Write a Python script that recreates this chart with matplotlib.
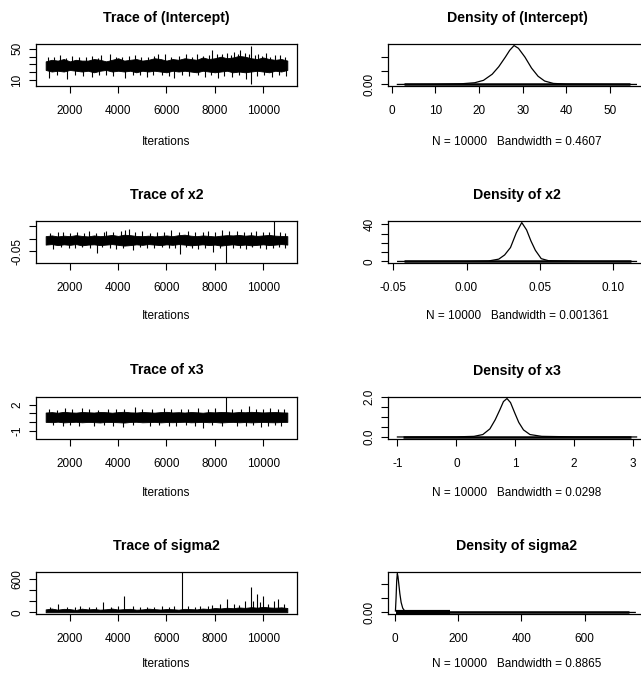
import matplotlib
matplotlib.use('Agg')
import matplotlib.pyplot as plt

plt.rcParams['font.family'] = ['Liberation Sans', 'DejaVu Sans']

env_iters = list(range(1000, 11001, 250))

# ---- (Intercept) trace: dense band edges, then isolated spikes above / below
int_center = 28.5
int_hi = [34, 36, 35, 37, 34, 36, 35, 35, 37, 36, 34, 36, 38, 35, 36, 37, 35, 36, 38, 37, 35,
          37, 36, 38, 37, 36, 39, 37, 38, 40, 38, 39, 41, 40, 38, 37, 39, 37, 36, 37, 35]
int_lo = [23, 21, 22, 21, 23, 22, 21, 22, 20, 22, 23, 21, 22, 21, 22, 20, 22, 21, 22, 21, 20,
          22, 21, 22, 21, 20, 22, 21, 20, 21, 22, 20, 21, 20, 21, 22, 21, 20, 22, 21, 23]
int_up_it = [1100, 1350, 1600, 1850, 2100, 2400, 2650, 2900, 3150, 3300, 3650, 3900, 4150, 4450,
             4700, 4950, 5250, 5500, 5650, 5950, 6200, 6500, 6800, 7050, 7250, 7500, 7750, 7900,
             8100, 8300, 8500, 8650, 8800, 8950, 9050, 9250, 9400, 9483, 9650, 9800, 9950, 10100,
             10300, 10500, 10700, 10900]
int_up_val = [40, 39, 42, 38, 41, 40, 39, 41, 38, 42, 43, 40, 39, 41, 42, 39, 40, 41, 43, 44,
              40, 41, 43, 40, 44, 41, 42, 48, 44, 43, 45, 42, 46, 44, 49, 45, 43, 54, 42, 43,
              41, 45, 40, 42, 42, 40]
int_dn_it = [1150, 1450, 1900, 2200, 2550, 2900, 3200, 3500, 3800, 4300, 4600, 4900, 5200, 5450,
             5800, 6100, 6300, 6650, 6950, 7300, 7600, 7850, 8150, 8400, 8700, 9000, 9300, 9490,
             9750, 10050, 10350, 10650, 10950]
int_dn_val = [13, 17, 12, 16, 15, 14, 17, 16, 15, 13, 16, 17, 14, 16, 17, 15, 13, 16, 15, 17,
              14, 16, 13, 15, 14, 16, 12, 4.8, 15, 16, 14, 16, 15]

# ---- x2 trace
x2_center = -0.008
x2_hi = [0.010, 0.013, 0.009, 0.012, 0.010, 0.014, 0.011, 0.009, 0.013, 0.010, 0.012, 0.015,
         0.011, 0.016, 0.014, 0.011, 0.010, 0.012, 0.009, 0.011, 0.013, 0.010, 0.014, 0.016,
         0.012, 0.010, 0.013, 0.011, 0.009, 0.012, 0.014, 0.013, 0.015, 0.012, 0.014, 0.011,
         0.013, 0.015, 0.012, 0.011, 0.010]
x2_lo = [-0.024, -0.022, -0.026, -0.023, -0.025, -0.022, -0.027, -0.024, -0.023, -0.026,
         -0.024, -0.022, -0.025, -0.028, -0.026, -0.023, -0.025, -0.022, -0.024, -0.026,
         -0.023, -0.025, -0.022, -0.024, -0.027, -0.025, -0.023, -0.026, -0.024, -0.028,
         -0.025, -0.023, -0.026, -0.024, -0.027, -0.025, -0.023, -0.026, -0.024, -0.022, -0.024]
x2_up_it = [1200, 1500, 1700, 2000, 2300, 2600, 2800, 3100, 3400, 3500, 3800, 4100, 4300, 4450,
            4700, 5000, 5300, 5600, 5900, 6200, 6500, 6900, 7200, 7500, 7700, 8000, 8300, 8600,
            8900, 9200, 9500, 9700, 10000, 10250, 10448, 10700, 10900]
x2_up_val = [0.022, 0.026, 0.028, 0.021, 0.025, 0.023, 0.030, 0.024, 0.027, 0.032, 0.025,
             0.029, 0.036, 0.038, 0.027, 0.030, 0.024, 0.028, 0.026, 0.034, 0.025, 0.030,
             0.026, 0.028, 0.032, 0.027, 0.035, 0.029, 0.030, 0.026, 0.028, 0.032, 0.027,
             0.025, 0.070, 0.028, 0.024]
x2_dn_it = [1300, 1650, 1950, 2200, 2500, 2850, 3110, 3350, 3650, 3900, 4200, 4600, 4900, 5200,
            5500, 5800, 6100, 6350, 6560, 6800, 7050, 7300, 7600, 7940, 8200, 8462, 8750, 9050,
            9300, 9550, 9850, 10100, 10400, 10650, 10900]
x2_dn_val = [-0.040, -0.035, -0.037, -0.038, -0.034, -0.036, -0.058, -0.035, -0.038, -0.040,
             -0.036, -0.045, -0.035, -0.037, -0.038, -0.034, -0.036, -0.039, -0.060, -0.035,
             -0.037, -0.042, -0.036, -0.055, -0.038, -0.096, -0.036, -0.038, -0.040, -0.035,
             -0.037, -0.042, -0.036, -0.034, -0.037]

# ---- x3 trace
x3_center = 0.55
x3_hi = [1.10, 1.15, 1.08, 1.18, 1.12, 1.09, 1.16, 1.13, 1.10, 1.17, 1.14, 1.08, 1.15, 1.19,
         1.12, 1.10, 1.16, 1.13, 1.09, 1.15, 1.18, 1.11, 1.14, 1.10, 1.16, 1.13, 1.08, 1.15,
         1.12, 1.17, 1.14, 1.10, 1.16, 1.13, 1.18, 1.15, 1.11, 1.14, 1.16, 1.12, 1.10]
x3_lo = [0.02, -0.02, 0.04, -0.04, 0.00, 0.03, -0.03, 0.01, -0.01, -0.05, 0.02, 0.00, -0.02,
         -0.06, 0.01, 0.03, -0.03, -0.01, 0.02, -0.04, 0.00, -0.02, 0.01, 0.03, -0.03, -0.01,
         0.02, -0.02, 0.00, -0.05, -0.01, 0.02, -0.03, 0.00, -0.04, -0.01, 0.01, -0.02, -0.03,
         0.00, 0.02]
x3_up_it = [1150, 1450, 1800, 2100, 2500, 2800, 3150, 3600, 3900, 4250, 4700, 5000, 5400, 5900,
            6200, 6600, 6900, 7300, 7700, 8000, 8450, 8700, 9100, 9400, 9700, 10000, 10300,
            10600, 10850]
x3_up_val = [1.5, 1.4, 1.6, 1.45, 1.6, 1.5, 1.4, 1.5, 1.55, 1.45, 1.7, 1.5, 1.45, 1.6, 1.5,
             1.45, 1.5, 1.6, 1.5, 1.6, 2.95, 1.55, 1.5, 1.8, 1.5, 1.55, 1.6, 1.5, 1.45]
x3_dn_it = [1300, 1700, 2000, 2400, 3000, 3400, 3800, 4200, 4600, 5300, 5700, 6100, 6400, 6800,
            7200, 7500, 7900, 8300, 8900, 9300, 9600, 9900, 10200, 10500, 10750]
x3_dn_val = [-0.35, -0.4, -0.3, -0.45, -0.5, -0.35, -0.4, -0.6, -0.35, -0.4, -0.3, -0.45, -0.5,
             -0.35, -0.4, -0.7, -0.35, -0.45, -0.5, -0.4, -0.35, -0.6, -0.4, -0.3, -0.4]

# ---- sigma2 trace (non-negative: spikes only go up)
s2_center = 20
s2_hi = [55, 70, 50, 65, 60, 45, 68, 55, 62, 50, 58, 70, 52, 60, 65, 50, 55, 68, 60, 52, 62,
         58, 50, 65, 60, 55, 70, 62, 80, 72, 85, 76, 90, 82, 95, 86, 100, 90, 85, 92, 80]
s2_lo = [3] * 41
s2_up_it = [1200, 1511, 1900, 2200, 2420, 2800, 3100, 3380, 3700, 4000, 4240, 4600, 4900, 5200,
            5500, 5800, 6100, 6300, 6630, 6900, 7200, 7400, 7700, 7900, 8200, 8490, 8800, 9000,
            9250, 9480, 9600, 9750, 9850, 10000, 10200, 10450, 10620, 10850]
s2_up_val = [95, 155, 100, 90, 110, 90, 100, 180, 95, 110, 300, 110, 95, 100, 105, 120, 100,
             110, 727, 120, 105, 110, 120, 140, 150, 250, 160, 140, 210, 460, 200, 330, 180,
             300, 160, 210, 240, 150]

# ---- density curves
int_dx = [1.3, 10, 16, 19, 21, 23, 24.5, 26, 27, 28, 29, 30.5, 32, 33.5, 35, 37, 40, 50, 56]
int_dy = [0, 0.0005, 0.002, 0.005, 0.012, 0.030, 0.052, 0.080, 0.100, 0.114, 0.106, 0.080,
          0.048, 0.024, 0.010, 0.003, 0.001, 0.0002, 0]
x2_dx = [-0.047, 0.0, 0.015, 0.022, 0.026, 0.030, 0.034, 0.0377, 0.041, 0.044, 0.047, 0.051,
         0.056, 0.08, 0.116]
x2_dy = [0, 0.1, 0.5, 2.5, 7, 15, 31, 42, 34, 22, 12, 3, 0.8, 0.1, 0]
x3_dx = [-1.0, 0.0, 0.3, 0.45, 0.57, 0.66, 0.74, 0.80, 0.86, 0.92, 0.99, 1.06, 1.14, 1.25,
         1.45, 2.0, 3.06]
x3_dy = [0, 0.005, 0.03, 0.12, 0.4, 0.85, 1.35, 1.75, 1.9, 1.7, 1.2, 0.72, 0.35, 0.12, 0.03,
         0.005, 0]
s2_dx = [2, 4, 6, 8, 10, 13, 16, 20, 25, 30, 40, 60, 100, 200, 400, 760]
s2_dy = [0.005, 0.05, 0.11, 0.135, 0.125, 0.095, 0.065, 0.035, 0.015, 0.007, 0.003, 0.001,
         0.0004, 0.0001, 0.00003, 0]

# observation ranges (rug lines under the densities)
int_rug = [2.7, 54.6]
x2_rug = [-0.043, 0.112]
x3_rug = [-0.91, 2.97]
s2_rug = [3, 740]
s2_rug_dense = [3, 175]

bandwidths = ['0.4607', '0.001361', '0.0298', '0.8865']
var_names = ['(Intercept)', 'x2', 'x3', 'sigma2']

W, H = 641, 674
fig = plt.figure(figsize=(W / 100, H / 100), dpi=100)

tops = [44, 221, 396.5, 572]
xlab_off = [56, 53, 54, 50]
box_h = 42
left_x, left_w = 36, 261
right_x, right_w = 388, 258

FS = 8.5


def make_ax(x, top, w):
    ax = fig.add_axes([x / W, 1 - (top + box_h) / H, w / W, box_h / H])
    for s in ax.spines.values():
        s.set_linewidth(0.9)
    ax.tick_params(direction='out', length=5, width=0.8, labelsize=FS)
    ax.tick_params(axis='x', pad=9)
    ax.tick_params(axis='y', pad=4, labelrotation=90)
    return ax


def panel_text(ax_x, ax_w, row, title, xlabel):
    top = tops[row]
    cx = (ax_x + ax_w / 2) / W
    fig.text(cx, 1 - (top - 26) / H, title, ha='center', va='center',
             fontsize=10.2, fontweight='bold')
    fig.text(cx, 1 - (top + box_h + xlab_off[row]) / H, xlabel, ha='center', va='center',
             fontsize=FS)


def trace(row, name, hi, lo, center, up_it, up_val, dn_it, dn_val, ylim, yticks, ylabels):
    ax = make_ax(left_x, tops[row], left_w)
    ax.fill_between(env_iters, lo, hi, color='black', lw=0.6)
    ax.vlines(up_it, center, up_val, color='black', lw=0.8)
    if dn_it:
        ax.vlines(dn_it, center, dn_val, color='black', lw=0.8)
    ax.set_xlim(601, 11400)
    ax.set_ylim(*ylim)
    ax.set_xticks([2000, 4000, 6000, 8000, 10000])
    ax.set_yticks(yticks)
    ax.set_yticklabels(ylabels, va='center')
    panel_text(left_x, left_w, row, 'Trace of ' + name, 'Iterations')


def dens(row, name, dx, dy, rug, xlim, xticks, yticks, ylabels, bw, rug_dense=None):
    ax = make_ax(right_x, tops[row], right_w)
    peak = max(dy)
    ax.plot(dx, dy, color='black', lw=0.9)
    ax.plot(rug, [peak / 100] * 2, color='black', lw=1.8, solid_capstyle='butt')
    if rug_dense is not None:
        ax.plot(rug_dense, [peak / 100] * 2, color='black', lw=3, solid_capstyle='butt')
    ax.set_xlim(*xlim)
    ax.set_ylim(-0.04 * peak, 1.04 * peak)
    ax.set_xticks(xticks[0])
    ax.set_xticklabels(xticks[1])
    ax.set_yticks(yticks)
    ax.set_yticklabels(ylabels, va='center')
    panel_text(right_x, right_w, row, 'Density of ' + name,
               'N = 10000   Bandwidth = ' + bw)


trace(0, var_names[0], int_hi, int_lo, int_center, int_up_it, int_up_val, int_dn_it, int_dn_val,
      (2.5, 56.2), [10, 20, 30, 40, 50], ['10', '', '', '', '50'])
trace(1, var_names[1], x2_hi, x2_lo, x2_center, x2_up_it, x2_up_val, x2_dn_it, x2_dn_val,
      (-0.098, 0.071), [-0.05, 0.0, 0.05], ['-0.05', '', ''])
trace(2, var_names[2], x3_hi, x3_lo, x3_center, x3_up_it, x3_up_val, x3_dn_it, x3_dn_val,
      (-1.9, 2.95), [-1, 0, 1, 2], ['-1', '', '', '2'])
trace(3, var_names[3], s2_hi, s2_lo, s2_center, s2_up_it, s2_up_val, [], [],
      (-28, 727), [0, 200, 400, 600], ['0', '', '', '600'])

dens(0, var_names[0], int_dx, int_dy, int_rug, (-0.85, 58.2),
     ([0, 10, 20, 30, 40, 50], ['0', '10', '20', '30', '40', '50']),
     [0, 0.04, 0.08], ['0.00', '', ''], bandwidths[0])
dens(1, var_names[1], x2_dx, x2_dy, x2_rug, (-0.0536, 0.1225),
     ([-0.05, 0.0, 0.05, 0.10], ['-0.05', '0.00', '0.05', '0.10']),
     [0, 10, 20, 30, 40], ['0', '', '', '', '40'], bandwidths[1])
dens(2, var_names[2], x3_dx, x3_dy, x3_rug, (-1.16, 3.22),
     ([-1, 0, 1, 2, 3], ['-1', '0', '1', '2', '3']),
     [0, 0.5, 1.0, 1.5, 2.0], ['0.0', '', '', '', '2.0'], bandwidths[2])
dens(3, var_names[3], s2_dx, s2_dy, s2_rug, (-21.5, 794),
     ([0, 200, 400, 600], ['0', '200', '400', '600']),
     [0, 0.05, 0.10], ['0.00', '', ''], bandwidths[3], rug_dense=s2_rug_dense)

fig.savefig('out.png', dpi=100)
